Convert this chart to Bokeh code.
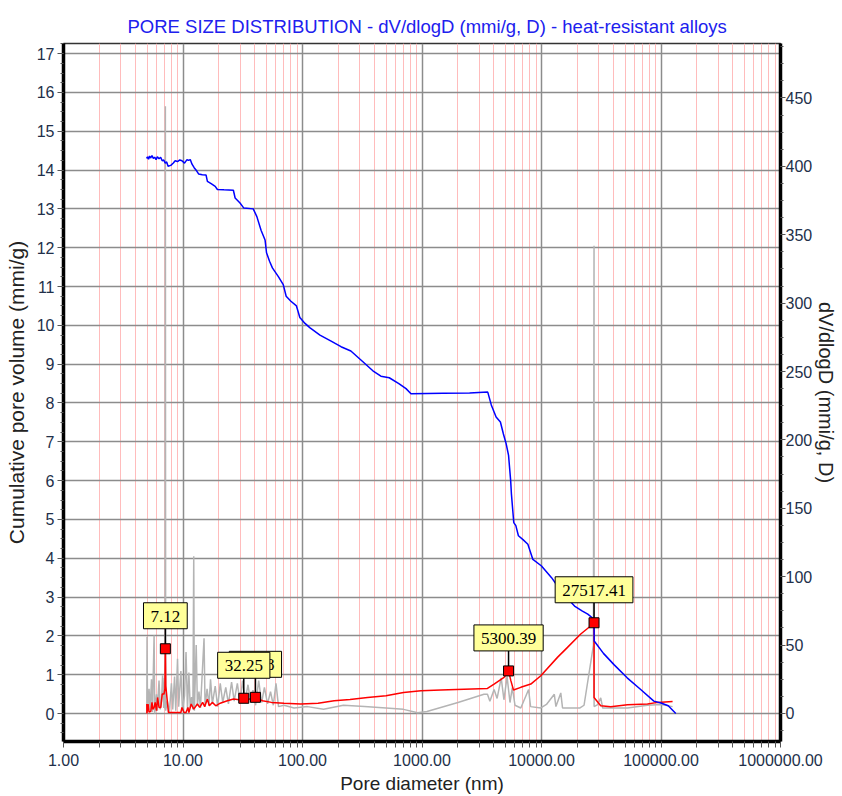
from bokeh.plotting import figure
from bokeh.models import (Range1d, LinearAxis, FixedTicker, SingleIntervalTicker,
                          PrintfTickFormatter)
from bokeh.embed import file_html
from bokeh.resources import INLINE

FONT = "Liberation Sans"

# Cumulative pore volume (left axis) against pore diameter in nm
cum_diam = [4.95, 5.05, 5.15, 5.25, 5.35, 5.5, 5.65, 5.8, 5.95, 6.1, 6.3, 6.5, 6.7, 6.9,
            7.1, 7.3, 7.5, 7.9, 8.3, 8.6, 9.0, 9.4, 9.8, 10.3, 10.8, 11.1, 11.5, 11.9,
            12.4, 13.0, 13.5, 14.5, 15.6, 16.0, 17.2, 18.6, 19.4, 22.0, 26.4, 27.3, 30.0,
            32.3, 38.7, 41.5, 45.0, 48.6, 50.0, 53.0, 56.0, 63.0, 69.0, 73.0, 80.0, 89.0,
            95.0, 105.0, 115.0, 140.0, 172.0, 210.0, 254.0, 310.0, 388.0, 453.0, 532.0,
            640.0, 735.0, 809.0, 1500.0, 2500.0, 3550.0, 3800.0, 4170.0, 4530.0, 4800.0,
            5060.0, 5300.0, 5520.0, 5600.0, 5860.0, 6100.0, 6410.0, 7000.0, 7690.0,
            8470.0, 10000.0, 12140.0, 15000.0, 18900.0, 22000.0, 24400.0, 27517.41,
            27600.0, 33000.0, 40400.0, 52100.0, 67600.0, 87100.0, 100000.0, 115000.0,
            133000.0]
cum_vol = [14.30, 14.34, 14.28, 14.36, 14.31, 14.37, 14.30, 14.33, 14.27, 14.34, 14.29,
           14.33, 14.24, 14.26, 14.18, 14.21, 14.10, 14.12, 14.18, 14.24, 14.22, 14.26,
           14.24, 14.18, 14.27, 14.25, 14.27, 14.15, 14.06, 13.98, 13.90, 13.88, 13.87,
           13.71, 13.65, 13.58, 13.50, 13.49, 13.48, 13.28, 13.15, 13.02, 13.00, 12.80,
           12.45, 12.20, 11.87, 11.65, 11.48, 11.25, 11.05, 10.75, 10.62, 10.50, 10.20,
           10.05, 9.94, 9.75, 9.60, 9.45, 9.34, 9.10, 8.83, 8.69, 8.65, 8.50, 8.37, 8.24,
           8.25, 8.26, 8.28, 7.95, 7.64, 7.51, 7.20, 6.95, 6.65, 6.00, 5.66, 4.92, 4.84,
           4.58, 4.48, 4.36, 3.97, 3.80, 3.50, 3.10, 2.77, 2.64, 2.56, 2.43, 1.87, 1.55,
           1.26, 0.92, 0.62, 0.32, 0.27, 0.20, 0.0]

# Smoothed dV/dlogD (right axis)
dv_diam = [4.98, 4.99, 5.1, 5.2, 5.38, 5.5, 5.6, 5.73, 5.85, 6.0, 6.13, 6.3, 6.52, 6.7,
           6.94, 7.05, 7.12, 7.18, 7.55, 8.5, 9.6, 9.8, 10.2, 10.6, 11.0, 11.2, 11.7,
           12.3, 13.2, 13.8, 14.6, 15.2, 16.0, 16.6, 17.6, 18.8, 20.5, 23.5, 26.5, 29.5,
           32.25, 35.0, 40.38, 46.2, 55.0, 70.0, 96.7, 135.0, 184.0, 250.0, 350.0, 500.0,
           700.0, 980.0, 1437.0, 3530.0, 4010.0, 4860.0, 5300.39, 5540.0, 5830.0, 6710.0,
           8140.0, 9870.0, 13600.0, 16500.0, 21300.0, 25000.0, 27517.41, 27517.41,
           31300.0, 38000.0, 52400.0, 77100.0, 93500.0, 125000.0]
dv_val = [6.9, 0.0, 6.9, 1.0, 1.5, 8.1, 3.0, 4.4, 8.1, 2.0, 11.7, 4.4, 4.4, 14.2, 14.2,
          18.0, 47.3, 20.0, 0.7, 0.7, 0.7, 4.4, 0.7, 0.7, 4.4, 0.7, 6.9, 3.2, 6.9, 4.4,
          8.1, 5.0, 10.5, 5.6, 8.1, 5.6, 7.5, 9.3, 10.5, 10.0, 11.1, 10.2, 11.8, 9.3, 8.1,
          7.5, 6.9, 7.5, 9.3, 10.2, 11.7, 13.0, 15.4, 16.6, 17.1, 18.3, 21.5, 26.4, 31.1,
          24.0, 17.1, 19.1, 21.5, 27.6, 41.0, 48.3, 58.1, 63.0, 66.3, 11.7, 5.6, 4.9,
          6.4, 6.9, 8.1, 8.8]

# Raw dV/dlogD (right axis)
raw_diam = [4.98, 5.0, 5.05, 5.2, 5.3, 5.45, 5.55, 5.73, 5.8, 6.0, 6.1, 6.3, 6.45, 6.6,
            6.75, 6.9, 7.0, 7.08, 7.12, 7.16, 7.4, 7.7, 8.0, 8.2, 8.5, 8.7, 9.0, 9.2, 9.6,
            9.9, 10.3, 10.6, 10.9, 11.2, 11.5, 11.8, 12.1, 12.3, 12.45, 12.9, 13.2, 13.6,
            14.0, 14.6, 15.0, 15.3, 15.9, 16.5, 17.0, 17.6, 18.6, 19.5, 20.5, 21.5, 22.8,
            24.0, 25.5, 26.8, 28.5, 30.0, 31.5, 33.0, 35.0, 36.8, 38.5, 40.5, 43.0, 45.5,
            48.0, 51.0, 54.0, 57.0, 60.0, 63.0, 70.0, 85.0, 110.0, 150.0, 220.0, 330.0,
            500.0, 700.0, 920.0, 1100.0, 2000.0, 3300.0, 3530.0, 3700.0, 4010.0, 4250.0,
            4600.0, 4850.0, 5150.0, 5450.0, 5700.0, 6000.0, 6710.0, 7800.0, 8100.0,
            9870.0, 11000.0, 12800.0, 13200.0, 14500.0, 15000.0, 21000.0, 22700.0,
            27200.0, 27517.41, 27560.0, 29500.0, 31300.0, 32500.0, 38000.0, 52400.0,
            77100.0, 100000.0, 125000.0]
raw_val = [0, 56, 1, 18, 2, 25, 1, 57, 0, 14, 2, 24, 3, 9, 28, 4, 26, 3, 444, 2, 9, 1,
           22, 3, 27, 2, 40, 5, 31, 2, 13, 45, 3, 30, 4, 12, 3, 115, 2, 50, 6, 16, 4, 35,
           55, 5, 18, 6, 25, 7, 20, 5, 22, 8, 19, 7, 23, 9, 22, 8, 24, 9, 21, 8, 17, 6,
           24, 8, 19, 7, 16, 6, 22, 5, 6, 4, 5, 3, 6, 5, 4, 3, 0.5, 1.5, 8, 14, 14, 9,
           17.5, 11, 26, 10, 27, 8, 19, 6, 4, 17.5, 5, 4, 6.6, 14, 5, 15, 4, 4, 6, 50,
           342, 5, 6.5, 11.4, 4, 4, 4, 6, 6.6, 5]

# Labelled peaks of the smoothed curve
peak_diam = [7.12, 40.38, 32.25, 5300.39, 27517.41]
peak_val = [47.3, 11.8, 11.1, 31.1, 66.3]
peak_text = [f"{d:.2f}" for d in peak_diam]

# Axis ticks
decades = [10.0 ** e for e in range(7)]
minor_x = [m * 10.0 ** e for e in range(6) for m in range(2, 10)]

p = figure(width=842, height=796, x_axis_type="log",
           x_range=Range1d(1, 1e6), y_range=Range1d(-0.72, 17.26),
           output_backend="svg", toolbar_location=None,
           title="PORE SIZE DISTRIBUTION  - dV/dlogD (mmi/g, D) - heat-resistant alloys",
           min_border_left=63, min_border_right=62, min_border_top=43,
           min_border_bottom=55)
p.extra_y_ranges = {"dv": Range1d(-20.5, 489.8)}

p.background_fill_color = "white"
p.border_fill_color = "white"
p.outline_line_color = "#333333"
p.outline_line_width = 1.5

p.title.text_font = FONT
p.title.text_font_size = "18.5px"
p.title.text_font_style = "normal"
p.title.text_color = "#2020ee"
p.title.align = "left"
p.title.offset = 64
p.title.standoff = 14

TICK_COLOR = "#22304a"

# Bottom axis
xa = p.xaxis[0]
xa.ticker = FixedTicker(ticks=decades, minor_ticks=minor_x)
xa.formatter = PrintfTickFormatter(format="%.2f")
xa.axis_label = "Pore diameter (nm)"

# Left axis
ya = p.yaxis[0]
ya.ticker = SingleIntervalTicker(interval=1, num_minor_ticks=4)
ya.axis_label = "Cumulative pore volume (mmi/g)"

# Right axis
ra = LinearAxis(y_range_name="dv", ticker=SingleIntervalTicker(interval=50, num_minor_ticks=4),
                axis_label="dV/dlogD (mmi/g, D)")
p.add_layout(ra, "right")

for ax in (xa, ya, ra):
    ax.axis_line_color = "black"
    ax.axis_line_width = 3.5
    ax.major_tick_line_color = "#555555"
    ax.minor_tick_line_color = "#555555"
    ax.major_tick_in = 0
    ax.minor_tick_in = 0
    ax.major_tick_out = 6
    ax.minor_tick_out = 3
    ax.major_label_text_font = FONT
    ax.major_label_text_font_size = "16px"
    ax.major_label_text_color = TICK_COLOR
    ax.axis_label_text_font = FONT
    ax.axis_label_text_font_style = "normal"
    ax.axis_label_text_color = "#222222"
    ax.axis_label_text_font_size = "19px"

xa.minor_tick_out = 6
xa.major_label_standoff = 6
xa.axis_label_standoff = 4
ya.axis_label_text_font_size = "21px"
ya.major_label_standoff = 3
ya.axis_label_standoff = 6
ra.axis_label_text_font_size = "20px"
ra.major_tick_out = 5
ra.major_label_standoff = 0
ra.axis_label_standoff = 0

# Grid
p.xgrid.grid_line_color = "#8c8c8c"
p.xgrid.grid_line_width = 1.5
p.xgrid.minor_grid_line_color = "#ffbcbc"
p.xgrid.minor_grid_line_width = 1
p.ygrid.grid_line_color = "#8c8c8c"
p.ygrid.grid_line_width = 1.5

# Curves
p.line(raw_diam, raw_val, y_range_name="dv", line_color="#b4b4b4", line_width=1.5)
p.line(dv_diam, dv_val, y_range_name="dv", line_color="#ff0000", line_width=1.5)
p.line(cum_diam, cum_vol, line_color="#0000ff", line_width=1.5)

# Peak markers with callouts
p.ray(peak_diam, peak_val, length=20, length_units="screen", angle=90, angle_units="deg",
      line_color="black", line_width=1.5, y_range_name="dv")
p.scatter(peak_diam, peak_val, marker="square", size=10, fill_color="#ff0000",
          line_color="black", line_width=1, y_range_name="dv")
p.text(peak_diam, peak_val, text=peak_text, y_range_name="dv", y_offset=-20,
       text_align="center", text_baseline="bottom", text_font=FONT,
       text_font_size="17px", text_color="black",
       background_fill_color="#ffff99", border_line_color="black", border_line_width=1,
       padding=dict(left=7, right=7, top=8, bottom=7))

open("out.html", "w").write(file_html(p, INLINE))
